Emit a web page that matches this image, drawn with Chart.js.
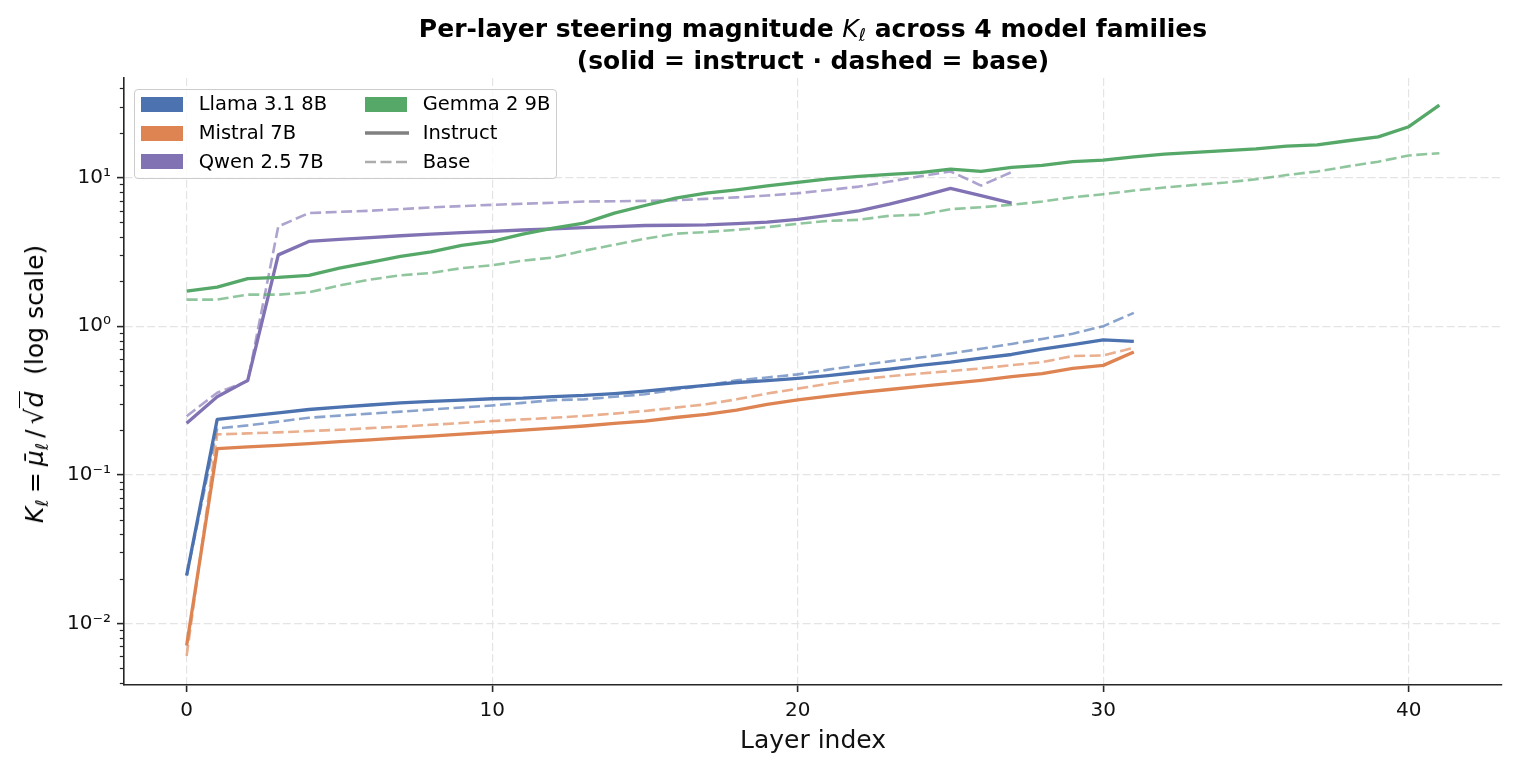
<!DOCTYPE html>
<html>
<head>
<meta charset="utf-8">
<script src="https://cdn.jsdelivr.net/npm/chart.js@4.4.1/dist/chart.umd.min.js"></script>
<style>
  html, body { margin: 0; padding: 0; background: #fff; }
  #wrap { position: relative; width: 1517px; height: 767px; overflow: hidden; font-family: "DejaVu Sans", sans-serif; color: #000; }
  #c { position: absolute; left: 0; top: 0; }
  #title { position: absolute; left: 124px; width: 1378px; top: 13.5px; text-align: center; font-weight: bold; font-size: 25px; line-height: 30px; white-space: nowrap; }
  .m { font-weight: normal; font-style: italic; }
  .sub { position: relative; top: 0.28em; font-size: 0.7em; font-style: italic; font-weight: normal; }
  #ylab { position: absolute; left: 35.5px; top: 383.5px; transform: translate(-50%, -50%) rotate(-90deg); font-size: 25px; line-height: 30px; white-space: nowrap; }
  .ov { border-top: 1.6px solid #000; padding: 0 1px; }
  #legend { position: absolute; left: 134px; top: 89px; width: 423px; height: 90px; box-sizing: border-box; border: 1px solid #cccccc; border-radius: 4px; background: rgba(255,255,255,0.8); }
  .li { position: absolute; font-size: 19.5px; line-height: 20px; white-space: nowrap; }
  .patch { position: absolute; width: 42px; height: 15px; }
</style>
</head>
<body>
<div id="wrap">
  <canvas id="c" width="1517" height="767"></canvas>
  <div id="title">Per-layer steering magnitude <span class="m">K</span><span class="sub">ℓ</span> across 4 model families<br>(solid = instruct · dashed = base)</div>
  <div id="ylab"><span class="m">K</span><span class="sub">ℓ</span>&#8197;=&#8197;<span class="m">μ̄</span><span class="sub">ℓ</span>&#8201;/&#8201;√<span class="ov"><span class="m">d</span></span>&nbsp;&nbsp;(log scale)</div>
  <div id="legend"></div>
</div>
<script>
// ---------------- data ----------------
const familyNames = ['Llama 3.1 8B', 'Mistral 7B', 'Qwen 2.5 7B', 'Gemma 2 9B'];
const familyColors = ['#4C72B0', '#DD8452', '#8172B3', '#55A868'];
const styleNames = ['Instruct', 'Base'];

const llamaInstruct = [0.021, 0.236, 0.248, 0.261, 0.275, 0.285, 0.295, 0.305, 0.312, 0.318, 0.325, 0.328, 0.336, 0.342, 0.352, 0.366, 0.383, 0.400, 0.418, 0.430, 0.445, 0.465, 0.490, 0.515, 0.545, 0.573, 0.610, 0.645, 0.700, 0.753, 0.810, 0.790];
const llamaBase = [0.021, 0.205, 0.215, 0.228, 0.242, 0.250, 0.258, 0.266, 0.275, 0.284, 0.293, 0.305, 0.318, 0.322, 0.335, 0.348, 0.375, 0.400, 0.432, 0.452, 0.474, 0.510, 0.545, 0.580, 0.615, 0.655, 0.705, 0.760, 0.820, 0.890, 1.00, 1.23];
const mistralInstruct = [0.0071, 0.150, 0.154, 0.158, 0.162, 0.167, 0.172, 0.177, 0.182, 0.188, 0.194, 0.200, 0.206, 0.213, 0.222, 0.230, 0.243, 0.255, 0.272, 0.298, 0.319, 0.338, 0.357, 0.375, 0.393, 0.412, 0.432, 0.457, 0.479, 0.520, 0.545, 0.670];
const mistralBase = [0.00605, 0.187, 0.190, 0.193, 0.197, 0.201, 0.206, 0.211, 0.217, 0.223, 0.230, 0.236, 0.242, 0.249, 0.258, 0.269, 0.283, 0.298, 0.322, 0.352, 0.380, 0.410, 0.438, 0.460, 0.480, 0.499, 0.520, 0.547, 0.573, 0.630, 0.636, 0.716];
const qwenInstruct = [0.222, 0.335, 0.432, 3.02, 3.72, 3.84, 3.95, 4.06, 4.17, 4.26, 4.35, 4.44, 4.52, 4.61, 4.68, 4.76, 4.78, 4.81, 4.90, 5.01, 5.23, 5.56, 5.97, 6.62, 7.45, 8.47, 7.57, 6.73];
const qwenBase = [0.248, 0.357, 0.427, 4.69, 5.77, 5.88, 5.98, 6.14, 6.30, 6.43, 6.56, 6.67, 6.77, 6.90, 6.93, 6.97, 7.05, 7.19, 7.36, 7.57, 7.85, 8.25, 8.70, 9.40, 10.2, 11.0, 8.84, 10.9];
const gemmaInstruct = [1.72, 1.83, 2.09, 2.13, 2.20, 2.46, 2.69, 2.95, 3.16, 3.50, 3.72, 4.16, 4.57, 4.94, 5.77, 6.49, 7.27, 7.85, 8.27, 8.79, 9.30, 9.80, 10.2, 10.5, 10.8, 11.4, 11.0, 11.7, 12.1, 12.8, 13.1, 13.8, 14.4, 14.8, 15.2, 15.6, 16.3, 16.6, 17.7, 18.8, 22.0, 30.7];
const gemmaBase = [1.51, 1.51, 1.63, 1.63, 1.69, 1.88, 2.06, 2.20, 2.28, 2.46, 2.57, 2.76, 2.90, 3.22, 3.53, 3.88, 4.19, 4.30, 4.45, 4.64, 4.89, 5.12, 5.20, 5.53, 5.62, 6.13, 6.32, 6.56, 6.90, 7.38, 7.73, 8.18, 8.57, 8.93, 9.26, 9.75, 10.4, 11.0, 11.9, 12.8, 14.1, 14.6];

const xTickValues = [0, 10, 20, 30, 40];
const yTickValues = [0.01, 0.1, 1, 10];
const yTickLabels = ['10⁻²', '10⁻¹', '10⁰', '10¹'];
// ---------------------------------------

const FONT = '"DejaVu Sans", sans-serif';
function alpha(hex, a) {
  const n = parseInt(hex.slice(1), 16);
  return `rgba(${(n >> 16) & 255},${(n >> 8) & 255},${n & 255},${a})`;
}
function pts(arr) { return arr.map((v, i) => ({ x: i, y: v })); }

const series = [
  [llamaInstruct, llamaBase],
  [mistralInstruct, mistralBase],
  [qwenInstruct, qwenBase],
  [gemmaInstruct, gemmaBase]
];

const datasets = [];
series.forEach((pair, f) => {
  datasets.push({
    label: familyNames[f] + ' ' + styleNames[0],
    data: pts(pair[0]),
    borderColor: familyColors[f],
    borderWidth: 3.3,
    borderJoinStyle: 'round',
    borderCapStyle: 'butt',
    pointRadius: 0,
    fill: false,
    tension: 0
  });
  datasets.push({
    label: familyNames[f] + ' ' + styleNames[1],
    data: pts(pair[1]),
    borderColor: alpha(familyColors[f], 0.65),
    borderWidth: 2.6,
    borderDash: [11, 4.5],
    borderJoinStyle: 'round',
    borderCapStyle: 'butt',
    pointRadius: 0,
    fill: false,
    tension: 0
  });
});
datasets.reverse();

const minorTicks = {
  id: 'minorTicks',
  afterDraw(chart) {
    const ys = chart.scales.y, ctx = chart.ctx;
    ctx.save();
    ctx.strokeStyle = '#262626';
    ctx.lineWidth = 1.2;
    for (let e = -3; e <= 1; e++) {
      for (let m = 2; m <= 9; m++) {
        const v = m * Math.pow(10, e);
        if (v < ys.min || v > ys.max) continue;
        const py = Math.round(ys.getPixelForValue(v)) + 0.5;
        ctx.beginPath();
        ctx.moveTo(ys.right - 4.2, py);
        ctx.lineTo(ys.right, py);
        ctx.stroke();
      }
    }
    ctx.restore();
  }
};

const gridOpts = { color: '#e4e4e4', lineWidth: 1.2, tickLength: 7, tickColor: '#262626', tickWidth: 1.6 };
const borderOpts = { display: true, color: '#262626', width: 1.6, dash: [8, 3.3] };

new Chart(document.getElementById('c'), {
  type: 'line',
  data: { datasets },
  options: {
    responsive: false,
    animation: false,
    devicePixelRatio: 1,
    layout: { padding: { top: 78, right: 15, left: 0, bottom: 0 } },
    plugins: { legend: { display: false }, title: { display: false }, tooltip: { enabled: false } },
    scales: {
      x: {
        type: 'linear',
        min: -2.05,
        max: 43.05,
        afterBuildTicks: s => { s.ticks = xTickValues.map(v => ({ value: v })); },
        afterFit: s => { s.height = 82; },
        ticks: { font: { family: FONT, size: 20 }, color: '#111', padding: 7, maxRotation: 0, autoSkip: false, callback: v => String(v) },
        grid: gridOpts,
        border: borderOpts,
        title: { display: true, text: 'Layer index', font: { family: FONT, size: 25 }, color: '#111', padding: { top: 0, bottom: 11 } }
      },
      y: {
        type: 'logarithmic',
        min: 0.00385,
        max: 46.8,
        afterBuildTicks: s => { s.ticks = yTickValues.map(v => ({ value: v })); },
        afterFit: s => { s.width = 124; },
        ticks: { font: { family: FONT, size: 20 }, color: '#111', padding: 6, autoSkip: false, callback: (v, i) => yTickLabels[i] },
        grid: gridOpts,
        border: borderOpts
      }
    }
  },
  plugins: [minorTicks]
});

// HTML legend (two columns, column-major like matplotlib)
const legend = document.getElementById('legend');
const rowY = [104, 133, 161.5];
const col = [{ p: 141, t: 198.7 }, { p: 365, t: 422.7 }];
const entries = [];
familyNames.forEach((n, i) => entries.push({ kind: 'patch', color: familyColors[i], text: n }));
entries.push({ kind: 'solid', text: styleNames[0] });
entries.push({ kind: 'dash', text: styleNames[1] });
entries.forEach((e, k) => {
  const c = col[Math.floor(k / 3)], cy = rowY[k % 3];
  const L = 134 + 1, T = 89 + 1;
  if (e.kind === 'patch') {
    const p = document.createElement('div');
    p.className = 'patch';
    p.style.left = (c.p - L) + 'px';
    p.style.top = (cy - 7.5 - T) + 'px';
    p.style.background = e.color;
    legend.appendChild(p);
  } else {
    const svgNS = 'http://www.w3.org/2000/svg';
    const svg = document.createElementNS(svgNS, 'svg');
    svg.setAttribute('width', '46');
    svg.setAttribute('height', '10');
    svg.style.position = 'absolute';
    svg.style.left = (c.p - L) + 'px';
    svg.style.top = (cy - 5 - T) + 'px';
    const ln = document.createElementNS(svgNS, 'line');
    ln.setAttribute('x1', '0'); ln.setAttribute('x2', '44');
    ln.setAttribute('y1', '5'); ln.setAttribute('y2', '5');
    ln.setAttribute('stroke', '#808080');
    if (e.kind === 'solid') {
      ln.setAttribute('stroke-width', '3.3');
    } else {
      ln.setAttribute('stroke-opacity', '0.65');
      ln.setAttribute('stroke-width', '2.6');
      ln.setAttribute('stroke-dasharray', '11 4.5');
    }
    svg.appendChild(ln);
    legend.appendChild(svg);
  }
  const t = document.createElement('div');
  t.className = 'li';
  t.textContent = e.text;
  t.style.left = (c.t - L) + 'px';
  t.style.top = (cy - 10 - T) + 'px';
  legend.appendChild(t);
});
</script>
</body>
</html>
